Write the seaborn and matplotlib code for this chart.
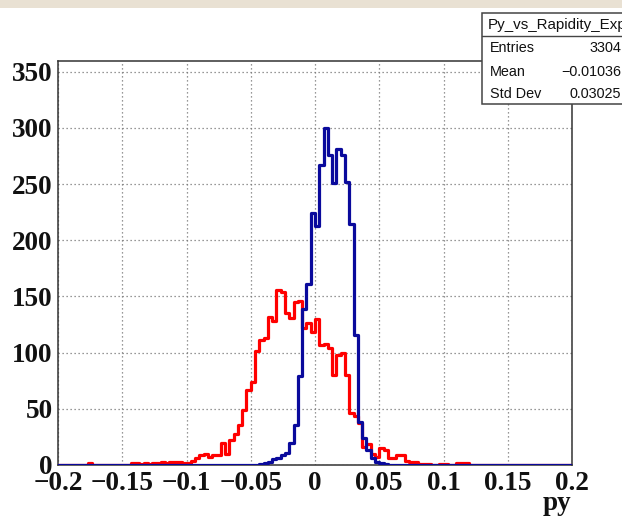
import numpy as np
import pandas as pd
import matplotlib
matplotlib.use("Agg")
import matplotlib.pyplot as plt
from matplotlib.patches import Rectangle
from matplotlib.lines import Line2D
import seaborn as sns

# Histogram binning: 120 bins over [-0.2, 0.2]
x_min, x_max, n_bins = -0.2, 0.2, 120

# Bin contents (red: broad distribution, blue: narrow distribution)
red_nonzero = {
    7: 2, 17: 2, 18: 2, 19: 1, 20: 2, 21: 1, 22: 2, 23: 2, 24: 3, 25: 2, 26: 3,
    27: 3, 28: 3, 29: 2, 30: 2, 31: 4, 32: 6, 33: 9, 34: 10, 35: 7, 36: 9,
    37: 9, 38: 20, 39: 10, 40: 22, 41: 28, 42: 36, 43: 49, 44: 67, 45: 74,
    46: 101, 47: 111, 48: 113, 49: 132, 50: 128, 51: 156, 52: 154, 53: 135,
    54: 131, 55: 145, 56: 146, 57: 122, 58: 126, 59: 118, 60: 130, 61: 107,
    62: 108, 63: 104, 64: 80, 65: 98, 66: 100, 67: 80, 68: 46, 69: 44,
    70: 37, 71: 16, 72: 19, 73: 10, 74: 7, 75: 15, 76: 13, 77: 6, 78: 6,
    79: 9, 80: 9, 81: 4, 82: 3, 83: 3, 84: 1, 85: 1, 86: 1, 89: 1, 90: 1,
    93: 2, 94: 2, 95: 2,
}
blue_nonzero = {
    47: 1, 48: 2, 49: 3, 50: 5, 51: 6, 52: 9, 53: 11, 54: 20, 55: 36, 56: 79,
    57: 139, 58: 161, 59: 224, 60: 213, 61: 267, 62: 300, 63: 276, 64: 251,
    65: 281, 66: 276, 67: 252, 68: 214, 69: 116, 70: 38, 71: 24, 72: 13,
    73: 6, 74: 3, 75: 2, 76: 1,
}
red_counts = [red_nonzero.get(k, 0) for k in range(n_bins)]
blue_counts = [blue_nonzero.get(k, 0) for k in range(n_bins)]

x_ticks = [-0.2, -0.15, -0.1, -0.05, 0, 0.05, 0.1, 0.15, 0.2]
x_tick_labels = ["\u22120.2", "\u22120.15", "\u22120.1", "\u22120.05", "0",
                 "0.05", "0.1", "0.15", "0.2"]
y_ticks = [0, 50, 100, 150, 200, 250, 300, 350]

stats_title = "Py_vs_Rapidity_Exp"
stats_rows = [("Entries", "3304"), ("Mean", "\u22120.01036"), ("Std Dev", "0.03025")]

edges = np.linspace(x_min, x_max, n_bins + 1)
centers = 0.5 * (edges[:-1] + edges[1:])
red_df = pd.DataFrame({"py": centers, "count": np.array(red_counts, dtype=float)})
blue_df = pd.DataFrame({"py": centers, "count": np.array(blue_counts, dtype=float)})

sns.set_style("white")
plt.rcParams["font.family"] = ["Liberation Serif", "DejaVu Serif"]

W, H = 622, 517
fig = plt.figure(figsize=(W / 100, H / 100), dpi=100)
fig.patch.set_facecolor("white")

def fx(px):
    return px / W

def fy(py):
    return 1 - py / H

ax_l, ax_r, ax_t, ax_b = 58, 572, 61.5, 465
ax = fig.add_axes([fx(ax_l), fy(ax_b), (ax_r - ax_l) / W, (ax_b - ax_t) / H])

sns.histplot(data=red_df, x="py", weights="count", bins=list(edges),
             element="step", fill=False, color="#ff0000", linewidth=2.3,
             ax=ax, zorder=3)
sns.histplot(data=blue_df, x="py", weights="count", bins=list(edges),
             element="step", fill=False, color="#0a0a9c", linewidth=2.3,
             ax=ax, zorder=4)

ax.set_xlim(x_min, x_max)
ax.set_ylim(0, 359)
ax.set_xlabel("")
ax.set_ylabel("")

ax.set_xticks(x_ticks)
ax.set_xticklabels(x_tick_labels)
ax.set_yticks(y_ticks)
ax.set_yticklabels([str(v) for v in y_ticks])

ax.grid(True, linestyle=(0, (1, 2.2)), color="#777777", linewidth=0.9)
ax.set_axisbelow(True)

ax.tick_params(axis="both", direction="in", length=12, width=1.5,
               color="#555555", labelsize=19.5)
ax.tick_params(axis="y", pad=4)
ax.tick_params(axis="x", pad=4)
for lab in ax.get_xticklabels() + ax.get_yticklabels():
    lab.set_fontweight("bold")
    lab.set_color("#111111")

for side in ["left", "bottom", "top", "right"]:
    ax.spines[side].set_visible(True)
    ax.spines[side].set_color("#333333")
    ax.spines[side].set_linewidth(1.1)

# axis title at the right end of the x axis
fig.text(fx(571), fy(503), "py", ha="right", va="center", fontsize=19.5,
         fontweight="bold", color="#111111")

# statistics box
box_l, box_t, box_b = 482, 12.5, 104
fig.patches.append(Rectangle((fx(box_l), fy(box_b)), fx(700 - box_l),
                             (box_b - box_t) / H, transform=fig.transFigure,
                             facecolor="white", edgecolor="#444444",
                             linewidth=1.1, zorder=10))
fig.lines.append(Line2D([fx(box_l), 1.0], [fy(36), fy(36)],
                        transform=fig.transFigure, color="#444444",
                        linewidth=1.0, zorder=11))
sans = ["Liberation Sans", "DejaVu Sans"]
fig.text(fx(488), fy(24.5), stats_title, ha="left", va="center",
         fontsize=10.9, family=sans, color="#111111", zorder=12)
row_y = [48, 72, 94.5]
for (name, val), yy in zip(stats_rows, row_y):
    fig.text(fx(490), fy(yy), name, ha="left", va="center", fontsize=10.4,
             family=sans, color="#111111", zorder=12)
    fig.text(fx(621), fy(yy), val, ha="right", va="center", fontsize=10.4,
             family=sans, color="#111111", zorder=12)

# beige band along the top edge
fig.patches.append(Rectangle((0, fy(7.5)), 1, 7.5 / H, transform=fig.transFigure,
                             facecolor="#e9e1d3", edgecolor="none", zorder=20))

fig.savefig("out.png", dpi=100)
